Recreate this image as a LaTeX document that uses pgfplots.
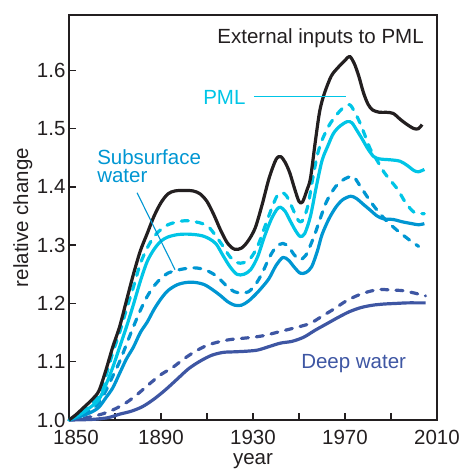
\documentclass[border=0pt]{standalone}
\usepackage{fontspec}
\setmainfont{Liberation Sans}
\usepackage{pgfplots}
\pgfplotsset{compat=1.18}
\definecolor{cblack}{HTML}{231F20}
\definecolor{ccyan}{HTML}{00C5E6}
\definecolor{cblue}{HTML}{0096D2}
\definecolor{cdeep}{HTML}{3E56A3}
\newcommand{\bigf}{\fontsize{20.5}{24}\selectfont}
\begin{document}
\begin{tikzpicture}
\begin{axis}[
  at={(0,0)}, anchor=south west,
  scale only axis, width=368pt, height=405pt,
  xmin=1850, xmax=2010, ymin=1.0, ymax=1.695,
  axis line style={line width=1.4pt, cblack},
  xtick={1850,1890,1930,1970,2010},
  xticklabels={\hspace*{14pt}1850,1890,1930,1970,2010},
  minor xtick={1870,1910,1950,1990},
  ytick={1.0,1.1,1.2,1.3,1.4,1.5,1.6},
  tick pos=left, tick align=inside,
  major tick length=7pt, minor tick length=7pt,
  every tick/.style={line width=1.4pt, cblack},
  tick label style={font=\bigf, text=cblack},
  xticklabel style={yshift=-7pt},
  /pgf/number format/assume math mode=true,
  y tick label style={/pgf/number format/.cd, fixed, fixed zerofill, precision=1},
  xlabel={year}, ylabel={relative change},
  label style={font=\bigf, text=cblack},
  xlabel style={at={(axis description cs:0.5,0)}, anchor=base, yshift=-44.5pt},
  ylabel style={at={(axis description cs:-0.1114,0.5)}, anchor=base},
  clip=false,
  every axis plot/.append style={line width=3.2pt, smooth, tension=0.5, line join=round},
]
% Deep water solid
\addplot[cdeep] coordinates {
(1850,1.000)(1860,1.001)(1867,1.004)(1872,1.010)(1877,1.015)(1882,1.023)(1887,1.036)(1892,1.052)(1897,1.070)(1902,1.088)(1907,1.101)(1912,1.111)(1917,1.116)(1922,1.117)(1927,1.118)(1932,1.120)(1937,1.126)(1942,1.132)(1947,1.135)(1952,1.142)(1957,1.154)(1962,1.165)(1967,1.176)(1972,1.186)(1977,1.193)(1982,1.197)(1987,1.199)(1992,1.200)(1997,1.201)(2001,1.201)(2005,1.201)};
% Deep water dashed
\addplot[cdeep, line cap=round, dash pattern=on 7pt off 8pt] coordinates {
(1850,1.000)(1855,1.002)(1860,1.006)(1865,1.011)(1870,1.019)(1875,1.030)(1880,1.045)(1885,1.062)(1890,1.078)(1895,1.090)(1900,1.105)(1905,1.118)(1910,1.128)(1915,1.134)(1920,1.138)(1925,1.140)(1930,1.142)(1935,1.145)(1940,1.150)(1945,1.155)(1950,1.160)(1955,1.166)(1960,1.178)(1965,1.190)(1970,1.203)(1975,1.213)(1980,1.220)(1985,1.224)(1990,1.223)(1995,1.222)(2000,1.218)(2005,1.213)};
% Subsurface solid
\addplot[cblue] coordinates {
(1850,1.000)(1855,1.006)(1860,1.014)(1863,1.022)(1866,1.038)(1869,1.055)(1872,1.080)(1875,1.105)(1878,1.125)(1881,1.150)(1884,1.168)(1887,1.190)(1890,1.208)(1893,1.222)(1897,1.232)(1901,1.236)(1905,1.236)(1909,1.232)(1913,1.222)(1916,1.213)(1919,1.203)(1922,1.197)(1925,1.197)(1928,1.204)(1931,1.215)(1934,1.228)(1937,1.243)(1940,1.265)(1943,1.279)(1945.5,1.274)(1948,1.262)(1950.5,1.252)(1953,1.253)(1955.5,1.263)(1958,1.290)(1960,1.318)(1963,1.345)(1966,1.365)(1969,1.378)(1972.5,1.384)(1975,1.380)(1978,1.370)(1981,1.360)(1984,1.350)(1987,1.345)(1991,1.344)(1995,1.340)(1999,1.337)(2002,1.335)(2004.5,1.337)};
% Subsurface dashed
\addplot[cblue, line cap=round, dash pattern=on 7pt off 8pt] coordinates {
(1850,1.000)(1855,1.008)(1860,1.018)(1863,1.030)(1866,1.050)(1869,1.075)(1872,1.100)(1875,1.130)(1878,1.160)(1881,1.188)(1884,1.212)(1887,1.230)(1890,1.243)(1893,1.252)(1897,1.257)(1901,1.260)(1905,1.261)(1909,1.258)(1913,1.250)(1916,1.240)(1919,1.228)(1922,1.220)(1925,1.218)(1928,1.220)(1931,1.232)(1934,1.252)(1937,1.278)(1940,1.297)(1943,1.303)(1945.5,1.297)(1948,1.283)(1950.5,1.275)(1953,1.283)(1955,1.300)(1957,1.320)(1959,1.343)(1962,1.375)(1966,1.401)(1970,1.414)(1973.5,1.418)(1976,1.405)(1979.5,1.384)(1982,1.370)(1985,1.355)(1988.5,1.340)(1992.5,1.326)(1996,1.315)(1999,1.306)(2002,1.298)};
% PML solid
\addplot[ccyan] coordinates {
(1850,1.000)(1855,1.010)(1860,1.024)(1863,1.035)(1866,1.060)(1869,1.090)(1872,1.125)(1875,1.160)(1878,1.198)(1881,1.238)(1884,1.272)(1887,1.293)(1890,1.307)(1893,1.314)(1897,1.318)(1901,1.319)(1905,1.318)(1908,1.316)(1911,1.311)(1914,1.302)(1917,1.282)(1920,1.263)(1923,1.250)(1926,1.250)(1929,1.258)(1932,1.280)(1935,1.315)(1938,1.345)(1940.5,1.362)(1942,1.365)(1944,1.358)(1946,1.343)(1948.5,1.325)(1950.5,1.315)(1952.5,1.320)(1955,1.350)(1957.5,1.400)(1960,1.445)(1962.5,1.470)(1965,1.492)(1968,1.505)(1971,1.512)(1973,1.510)(1975,1.498)(1977.5,1.482)(1980,1.465)(1982.5,1.452)(1985,1.448)(1988,1.447)(1991,1.446)(1994,1.444)(1997,1.437)(2000,1.428)(2002,1.426)(2004.5,1.430)};
% PML dashed
\addplot[ccyan, line cap=round, dash pattern=on 7pt off 8pt] coordinates {
(1850,1.000)(1855,1.012)(1860,1.028)(1863,1.042)(1866,1.075)(1869,1.115)(1872,1.150)(1875,1.190)(1878,1.228)(1881,1.268)(1884,1.295)(1887,1.315)(1890,1.327)(1893,1.335)(1897,1.340)(1901,1.342)(1905,1.340)(1908,1.337)(1911,1.330)(1914,1.315)(1917,1.298)(1920,1.280)(1923,1.270)(1926,1.270)(1929,1.278)(1932,1.298)(1935,1.330)(1938,1.362)(1940.5,1.385)(1942.5,1.390)(1944.5,1.385)(1947,1.365)(1949,1.347)(1950.5,1.340)(1952,1.345)(1954,1.370)(1956,1.415)(1958,1.455)(1960,1.480)(1963,1.505)(1966,1.522)(1969,1.535)(1972,1.541)(1974,1.530)(1976.5,1.510)(1979,1.485)(1981,1.465)(1984,1.445)(1987,1.425)(1990,1.410)(1993,1.395)(1996,1.375)(1999,1.360)(2001,1.355)(2004.5,1.354)};
% External inputs
\addplot[cblack] coordinates {
(1850,1.000)(1853,1.009)(1856,1.020)(1860,1.035)(1863,1.050)(1866,1.085)(1869,1.125)(1872,1.160)(1875,1.205)(1878,1.250)(1881,1.290)(1884,1.320)(1887,1.350)(1890,1.373)(1893,1.388)(1896,1.393)(1900,1.394)(1904,1.393)(1907,1.388)(1910,1.375)(1913,1.352)(1916,1.325)(1919,1.303)(1922,1.293)(1925,1.295)(1928,1.308)(1931,1.330)(1934,1.370)(1937,1.415)(1940,1.447)(1942,1.452)(1944,1.442)(1946,1.424)(1948,1.398)(1950,1.375)(1951.5,1.374)(1953.5,1.395)(1955,1.415)(1957,1.475)(1959,1.530)(1961,1.560)(1964,1.590)(1967,1.605)(1970,1.617)(1972,1.624)(1974,1.612)(1976,1.590)(1978,1.562)(1980,1.542)(1982,1.532)(1985,1.528)(1988,1.528)(1991,1.526)(1994,1.516)(1997,1.507)(2000,1.500)(2002,1.500)(2003.5,1.507)};
% annotations
\node[anchor=base east, font=\bigf, text=cblack, inner sep=0pt] at (axis cs:2004.3,1.646) {External inputs to PML};
\node[anchor=base west, font=\bigf, text=ccyan, inner sep=0pt] at (axis cs:1908.3,1.541) {PML};
\draw[ccyan, line width=1.1pt] (axis cs:1930.4,1.555) -- (axis cs:1970.4,1.555);
\node[anchor=base west, font=\bigf, text=cblue, inner sep=0pt] at (axis cs:1862.2,1.439) {Subsurface};
\node[anchor=base west, font=\bigf, text=cblue, inner sep=0pt] at (axis cs:1862.2,1.407) {water};
\draw[cblue, line width=1.1pt] (axis cs:1879.6,1.390) -- (axis cs:1896.1,1.258);
\node[anchor=base west, font=\bigf, text=cdeep, inner sep=0pt] at (axis cs:1950.9,1.089) {Deep water};
\end{axis}
\pgfresetboundingbox
\path[use as bounding box] (-69pt,-50pt) rectangle (393pt,420pt);
\end{tikzpicture}
\end{document}
